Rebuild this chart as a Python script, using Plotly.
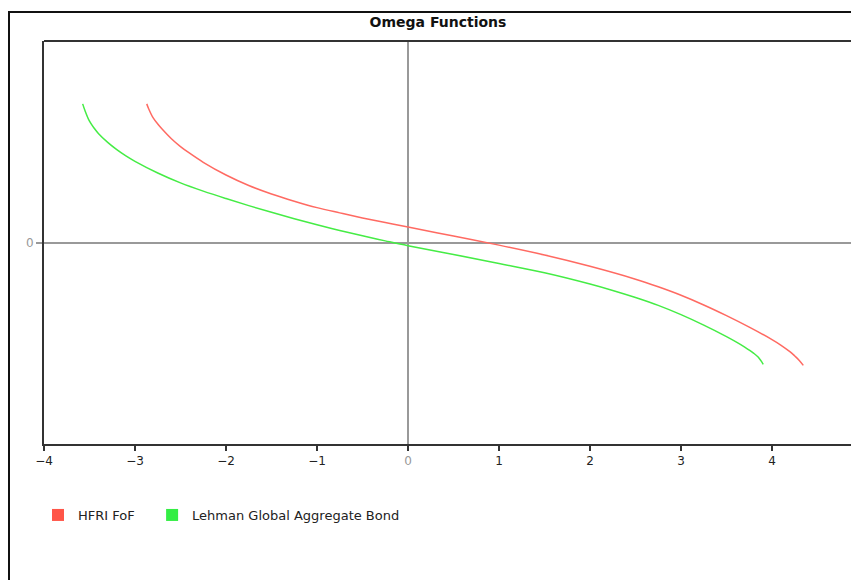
import plotly.graph_objects as go

# HFRI FoF omega function (x = threshold, y = omega value in arbitrary log units)
hfri_x = [-2.871, -2.85, -2.8, -2.75, -2.7, -2.6, -2.5, -2.4, -2.25, -2.0, -1.75, -1.5,
          -1.25, -1.0, -0.75, -0.5, -0.25, 0.0, 0.5, 1.0, 1.5, 2.0, 2.5, 2.75, 3.0,
          3.25, 3.5, 3.75, 4.0, 4.1, 4.2, 4.25, 4.3, 4.344]
hfri_y = [0.688, 0.664, 0.618, 0.588, 0.562, 0.515, 0.476, 0.443, 0.398, 0.335, 0.283, 0.241,
          0.205, 0.173, 0.147, 0.122, 0.099, 0.077, 0.032, -0.013, -0.062, -0.118, -0.182,
          -0.220, -0.262, -0.310, -0.363, -0.420, -0.482, -0.510, -0.543, -0.563, -0.585,
          -0.610]

# Lehman Global Aggregate Bond omega function
lgab_x = [-3.575, -3.55, -3.5, -3.45, -3.4, -3.3, -3.2, -3.1, -3.0, -2.75, -2.5, -2.25,
          -2.0, -1.75, -1.5, -1.25, -1.0, -0.75, -0.5, -0.25, 0.0, 0.5, 1.0, 1.5, 2.0,
          2.25, 2.5, 2.75, 3.0, 3.25, 3.5, 3.6, 3.7, 3.8, 3.85, 3.904]
lgab_y = [0.688, 0.655, 0.602, 0.568, 0.540, 0.497, 0.461, 0.430, 0.403, 0.345, 0.296, 0.255,
          0.218, 0.183, 0.150, 0.118, 0.088, 0.060, 0.033, 0.008, -0.016, -0.059, -0.104,
          -0.150, -0.206, -0.238, -0.273, -0.312, -0.358, -0.410, -0.467, -0.492, -0.519,
          -0.550, -0.570, -0.605]

series_names = ["HFRI FoF", "Lehman Global Aggregate Bond"]
line_colors = ["#FF6A62", "#45EC45"]
legend_colors = ["#FF5548", "#33EE44"]
x_ticks = [-4, -3, -2, -1, 0, 1, 2, 3, 4]

FONT = "DejaVu Sans, Liberation Sans, Arial, sans-serif"

fig = go.Figure()
for xs, ys, name, c in [(hfri_x, hfri_y, series_names[0], line_colors[0]),
                        (lgab_x, lgab_y, series_names[1], line_colors[1])]:
    fig.add_trace(go.Scatter(x=xs, y=ys, mode="lines", name=name,
                             line=dict(color=c, width=1.5, shape="spline", smoothing=1.0),
                             showlegend=False, hoverinfo="x+y"))
legend_labels = [series_names[0] + "\u00a0\u00a0\u00a0", series_names[1]]
for name, c in zip(legend_labels, legend_colors):
    fig.add_trace(go.Scatter(x=[None], y=[None], mode="markers", name=name,
                             marker=dict(symbol="square", size=12, color=c)))

tick_text = [("<span style='color:#999'>0</span>" if v == 0
              else f"\u2212{abs(v)}" if v < 0 else str(v)) for v in x_ticks]

# page is rendered with an 8px body margin, so figure coords = page coords - 8
W, H = 851, 572
L, R, T, B = 36, 0, 33, 136
pw, ph = W - L - R, H - T - B
x_per_px = 1 / 91.0

fig.update_layout(
    width=W, height=H,
    margin=dict(l=L, r=R, t=T, b=B, pad=0),
    paper_bgcolor="white", plot_bgcolor="white",
    font=dict(family=FONT, size=12, color="#222"),
    title=dict(text="<b>Omega Functions</b>", x=430 / W, xref="container", xanchor="center",
               y=1 - 14 / H, yref="container", yanchor="middle",
               font=dict(family=FONT, size=14, color="#111")),
    xaxis=dict(range=[-4, -4 + pw * x_per_px], tickvals=x_ticks, ticktext=tick_text,
               showgrid=False, zeroline=True, zerolinecolor="#999", zerolinewidth=1.5,
               showline=True, linecolor="#333", linewidth=2, mirror=False,
               ticks="outside", ticklen=5, tickwidth=1.5, tickcolor="#333",
               tickfont=dict(family=FONT, size=12, color="#222"), fixedrange=True),
    yaxis=dict(range=[-1.0, 1.0], tickvals=[0], ticktext=["0"],
               showgrid=False, zeroline=True, zerolinecolor="#999", zerolinewidth=1.5,
               showline=True, linecolor="#333", linewidth=2,
               ticks="outside", ticklen=6, tickwidth=1.5, tickcolor="#999",
               tickfont=dict(family=FONT, size=12, color="#999"), fixedrange=True),
    legend=dict(orientation="h", x=(30 - L) / pw, xanchor="left",
                y=(H - B - 507) / ph, yanchor="middle",
                font=dict(family=FONT, size=13, color="#222"), bgcolor="rgba(0,0,0,0)",
                itemwidth=30),
    showlegend=True,
    shapes=[
        # outer chart frame (extends beyond the visible window)
        dict(type="rect", xref="paper", yref="paper",
             x0=(1 - L) / pw, x1=1.2, y0=-0.5, y1=(H - B - 4) / ph,
             line=dict(color="#111", width=2), fillcolor="rgba(0,0,0,0)", layer="above"),
        # top border of plot box
        dict(type="line", xref="paper", yref="paper", x0=0, x1=1.1, y0=1, y1=1,
             line=dict(color="#333", width=2)),
    ],
)

fig.write_html("out.html")
